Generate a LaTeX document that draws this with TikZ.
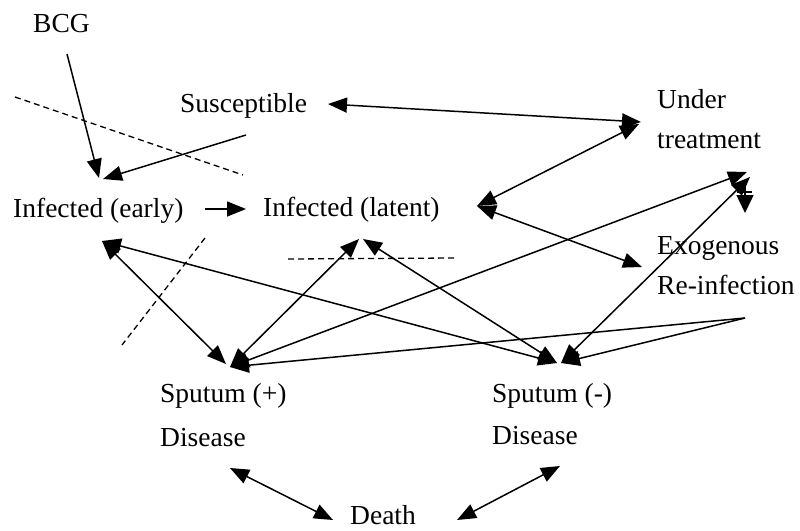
\documentclass[tikz,border=0pt]{standalone}
\usepackage{fontspec}
\setmainfont{Liberation Serif}
\usetikzlibrary{arrows.meta}
\begin{document}
\begin{tikzpicture}[x=1pt,y=-1pt,
  lbl/.style={anchor=base west, inner sep=0pt, align=left, font=\fontsize{27.5}{40}\selectfont},
  plain/.style={line width=1.5pt},
  conn/.style={plain, -{Triangle[length=19pt,width=15pt]}},
  both/.style={plain, {Triangle[length=19pt,width=15pt]}-{Triangle[length=19pt,width=15pt]}},
  dashline/.style={line width=1.3pt, dash pattern=on 6pt off 4pt}]
\useasboundingbox (0,0) rectangle (800,530);
\fill[white] (0,0) rectangle (800,530);
% labels (multi-line nodes are placed by the baseline of their last line)
\node[lbl] (bcg) at (33,32) {BCG};
\node[lbl] (sus) at (180,112) {Susceptible};
\node[lbl] (ut) at (657,148) {Under\\treatment};
\node[lbl] (ie) at (13,217) {Infected (early)};
\node[lbl] (lat) at (263,216) {Infected (latent)};
\node[lbl] (ex) at (657,294) {Exogenous\\Re-infection};
\node[lbl] (sp) at (160,446) {Sputum (+)\\[4pt]Disease};
\node[lbl] (sn) at (492,444) {Sputum (-)\\[2pt]Disease};
\node[lbl] (death) at (350,524) {Death};
% connector end points
\coordinate (bcgS) at (67,54);
\coordinate (ieN1) at (99,178);
\coordinate (susSW) at (246,135);
\coordinate (ieN2) at (103,179);
\coordinate (ieE) at (205,209);
\coordinate (latW) at (246,209);
\coordinate (susE) at (328,104);
\coordinate (utW) at (641,122);
\coordinate (latE) at (477,206);
\coordinate (utSW) at (639,124);
\coordinate (exNW) at (642,267);
\coordinate (ieS) at (102,241);
\coordinate (spA) at (226,364);
\coordinate (spB) at (230,367);
\coordinate (snA) at (557,363);
\coordinate (snB) at (561,363);
\coordinate (latS1) at (359,239);
\coordinate (latS2) at (363,239);
\coordinate (utSE1) at (747,172);
\coordinate (utSE2) at (750,177);
\coordinate (exS) at (745,318);
\coordinate (spD) at (230,468);
\coordinate (deathW) at (333,520);
\coordinate (snD) at (560,466);
\coordinate (deathE) at (457,520);
\coordinate (utArrS) at (745,186);
\coordinate (utArrE) at (745,213);
\coordinate (barL) at (737,192);
\coordinate (barR) at (752,192);
% dashed lines
\draw[dashline] (15,97) -- (243,175);
\draw[dashline] (205,238) -- (122,345);
\draw[dashline] (288,259) -- (455,258);
% connectors
\draw[conn] (bcgS) -- (ieN1);
\draw[conn] (susSW) -- (ieN2);
\draw[conn] (ieE) -- (latW);
\draw[both] (susE) -- (utW);
\draw[both] (latE) -- (utSW);
\draw[both] (latE) -- (exNW);
\draw[both] (ieS) -- (spA);
\draw[both] (ieS) -- (snA);
\draw[both] (latS1) -- (spB);
\draw[both] (latS2) -- (snA);
\draw[both] (spB) -- (utSE1);
\draw[both] (snB) -- (utSE2);
\draw[conn] (exS) -- (spB);
\draw[conn] (exS) -- (snB);
\draw[both] (spD) -- (deathW);
\draw[both] (snD) -- (deathE);
\draw[plain, -{Triangle[length=18pt,width=17pt]}] (utArrS) -- (utArrE);
\draw[plain] (barL) -- (barR);
\end{tikzpicture}
\end{document}
